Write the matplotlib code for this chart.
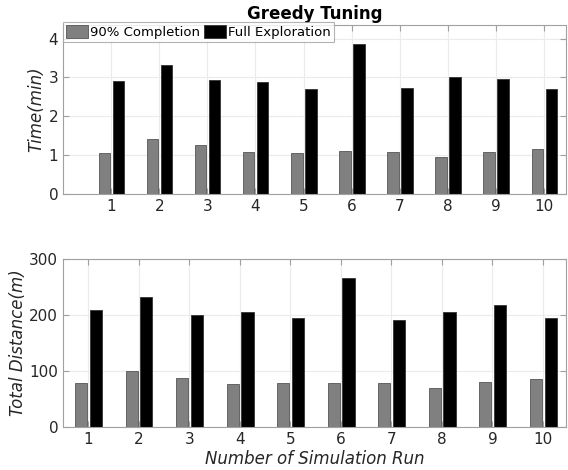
import matplotlib
matplotlib.use('Agg')
import matplotlib.pyplot as plt
import numpy as np

runs = [1, 2, 3, 4, 5, 6, 7, 8, 9, 10]
time_90 = [1.05, 1.42, 1.26, 1.07, 1.05, 1.11, 1.09, 0.95, 1.09, 1.16]
time_full = [2.90, 3.31, 2.94, 2.87, 2.70, 3.85, 2.73, 3.01, 2.96, 2.70]
dist_90 = [78, 100, 87, 77, 78, 78, 78, 70, 80, 85]
dist_full = [209, 232, 201, 205, 194, 267, 192, 206, 219, 194]

gray = '#808080'
spine = '#a0a0a0'

fig = plt.figure(figsize=(5.68, 4.70), dpi=100)
ax1 = fig.add_axes([0.111, 0.587, 0.885, 0.360])
ax2 = fig.add_axes([0.111, 0.0915, 0.885, 0.357])

x = np.array(runs)
w = 0.24

def style(ax):
    for s in ax.spines.values():
        s.set_color(spine)
    ax.tick_params(direction='in', top=True, right=True, colors=spine,
                   labelcolor='#262626', labelsize=11, length=4)
    ax.grid(True, color='#ebebeb', linewidth=0.8)
    ax.set_axisbelow(True)
    ax.set_xticks(runs)

ax1.bar(x - 0.14, time_90, w, color=gray, edgecolor='#555555', linewidth=0.6, label='90% Completion')
ax1.bar(x + 0.15, time_full, w, color='black', edgecolor='#333333', linewidth=0.6, label='Full Exploration')
ax1.set_xlim(0, 10.45)
ax1.set_ylim(0, 4.35)
ax1.set_yticks([0, 1, 2, 3, 4])
style(ax1)
ax1.set_ylabel('Time(min)', style='italic', fontsize=12, color='#262626')
ax1.yaxis.set_label_coords(-0.036, 0.5)
ax1.set_title('Greedy Tuning', fontweight='bold', fontsize=12, pad=4)
leg = ax1.legend(loc='lower left', bbox_to_anchor=(0.0, 0.9), ncol=2, fontsize=9.5,
                 frameon=True, fancybox=False, borderpad=0.22, handlelength=1.7,
                 handleheight=1.1, handletextpad=0.15, columnspacing=0.25, borderaxespad=0)
leg.get_frame().set_edgecolor(spine)
leg.get_frame().set_linewidth(0.8)

ax2.bar(x - 0.14, dist_90, w, color=gray, edgecolor='#555555', linewidth=0.6)
ax2.bar(x + 0.15, dist_full, w, color='black', edgecolor='#333333', linewidth=0.6)
ax2.set_xlim(0.5, 10.45)
ax2.set_ylim(0, 300)
ax2.set_yticks([0, 100, 200, 300])
style(ax2)
ax2.set_ylabel('Total Distance(m)', style='italic', fontsize=12, color='#262626')
ax2.yaxis.set_label_coords(-0.072, 0.5)
ax2.set_xlabel('Number of Simulation Run', style='italic', fontsize=12, color='#262626', labelpad=2)

fig.savefig('out.png', dpi=100)
